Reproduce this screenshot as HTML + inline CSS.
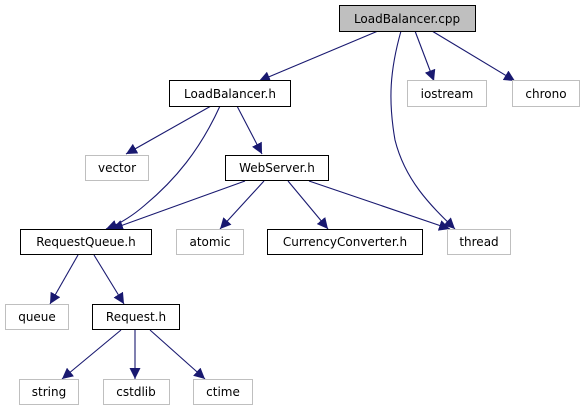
<!DOCTYPE html>
<html><head><meta charset="utf-8"><style>
html,body{margin:0;padding:0;background:#fff;}
svg{display:block;}
text{font-family:"DejaVu Sans","Liberation Sans",sans-serif;font-size:12px;fill:#000;text-anchor:middle;}
</style></head><body>
<svg width="582" height="411" viewBox="0 0 582 411" xmlns="http://www.w3.org/2000/svg">
<defs>
<marker id="a" viewBox="0 0 10 10" refX="10" refY="5" markerWidth="11" markerHeight="11" markerUnits="userSpaceOnUse" orient="auto">
<path d="M0,0 L10,5 L0,10 z" fill="#191970"/>
</marker>
</defs>
<g stroke="#191970" stroke-width="1.1" fill="none" marker-end="url(#a)">
<path d="M378,31 L259,81"/>
<path d="M401,31 C390,70 388,100 395,140 C405,180 430,205 455,229"/>
<path d="M415,31 L434,81"/>
<path d="M432,31 L515,81"/>
<path d="M211,106 L126,154"/>
<path d="M220,106 C200,150 175,180 145,205 C130,218 117,225 106,229"/>
<path d="M237,106 L262,154"/>
<path d="M245,181 L112,229"/>
<path d="M264,181 L220,229"/>
<path d="M288,181 L328,229"/>
<path d="M309,181 L450,229"/>
<path d="M78,255 L50,304"/>
<path d="M94,255 L124,304"/>
<path d="M121,330 L62,379"/>
<path d="M135,330 L135,379"/>
<path d="M150,330 L205,379"/>
</g>
<g stroke-width="1">
<rect x="339.5" y="5.5" width="136" height="26" fill="#bfbfbf" stroke="#000"/>
<rect x="169.5" y="80.5" width="121" height="26" fill="#fff" stroke="#000"/>
<rect x="407.5" y="80.5" width="79" height="26" fill="#fff" stroke="#bfbfbf"/>
<rect x="512.5" y="80.5" width="67" height="26" fill="#fff" stroke="#bfbfbf"/>
<rect x="85.5" y="155.5" width="63" height="25" fill="#fff" stroke="#bfbfbf"/>
<rect x="225.5" y="155.5" width="103" height="25" fill="#fff" stroke="#000"/>
<rect x="20.5" y="229.5" width="131" height="25" fill="#fff" stroke="#000"/>
<rect x="176.5" y="229.5" width="67" height="25" fill="#fff" stroke="#bfbfbf"/>
<rect x="267.5" y="229.5" width="155" height="25" fill="#fff" stroke="#000"/>
<rect x="447.5" y="229.5" width="63" height="25" fill="#fff" stroke="#bfbfbf"/>
<rect x="5.5" y="304.5" width="63" height="25" fill="#fff" stroke="#bfbfbf"/>
<rect x="92.5" y="304.5" width="87" height="25" fill="#fff" stroke="#000"/>
<rect x="19.5" y="379.5" width="59" height="25" fill="#fff" stroke="#bfbfbf"/>
<rect x="103.5" y="379.5" width="66" height="25" fill="#fff" stroke="#bfbfbf"/>
<rect x="193.5" y="379.5" width="59" height="25" fill="#fff" stroke="#bfbfbf"/>
</g>
<text x="407" y="23">LoadBalancer.cpp</text>
<text x="230" y="98">LoadBalancer.h</text>
<text x="447" y="98">iostream</text>
<text x="546" y="98">chrono</text>
<text x="117" y="172">vector</text>
<text x="277" y="172">WebServer.h</text>
<text x="86" y="246">RequestQueue.h</text>
<text x="210" y="246">atomic</text>
<text x="345" y="246">CurrencyConverter.h</text>
<text x="479" y="246">thread</text>
<text x="37" y="321">queue</text>
<text x="136" y="321">Request.h</text>
<text x="49" y="396">string</text>
<text x="136" y="396">cstdlib</text>
<text x="223" y="396">ctime</text>
</svg>
</body></html>
